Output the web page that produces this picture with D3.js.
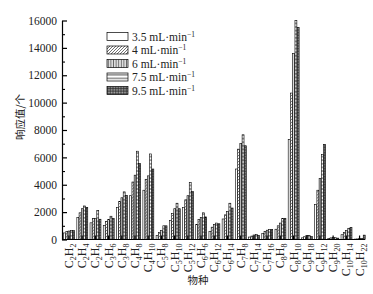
<!DOCTYPE html>
<html>
<head>
<meta charset="utf-8">
<script src="https://cdn.jsdelivr.net/npm/d3@7/dist/d3.min.js"></script>
<style>
  body { margin: 0; background: #fff; }
  svg { display: block; }
</style>
</head>
<body>
<div id="chart"></div>
<script>
// species on the x axis
const categories = ["C2H2", "C2H4", "C2H6", "C3H6", "C3H8", "C4H8", "C4H10", "C5H8", "C5H10", "C5H12",
  "C6H6", "C6H12", "C6H14", "C7H8", "C7H14", "C7H16", "C8H8", "C8H10", "C9H18", "C9H12", "C9H20", "C10H14", "C10H22"];

// flow rates (legend)
const flows = ["3.5", "4", "6", "7.5", "9.5"];

// response values per flow rate
const s35 = [480, 1600, 1220, 1030, 2350, 3200, 3600, 300, 1400, 2350, 1100, 600, 1500, 5150, 180, 450, 750, 7300, 120, 2550, 80, 350, 30];
const s4  = [580, 1950, 1550, 1330, 2780, 4200, 4400, 500, 1900, 2900, 1450, 900, 1800, 6600, 250, 600, 1000, 10700, 200, 3600, 120, 520, 40];
const s6  = [620, 2250, 1550, 1460, 3050, 4700, 4650, 650, 2250, 3200, 1600, 1100, 2050, 7000, 330, 680, 1200, 13600, 300, 4450, 150, 650, 60];
const s75 = [650, 2450, 2120, 1700, 3480, 6450, 6250, 1000, 2650, 4150, 1950, 1200, 2650, 7650, 380, 740, 1550, 16000, 300, 6200, 130, 820, 80];
const s95 = [650, 2350, 1480, 1550, 3230, 5550, 5150, 1000, 2250, 3500, 1650, 1150, 2300, 6850, 300, 740, 1550, 15500, 220, 6950, 100, 880, 320];

const yTicks = [0, 2000, 4000, 6000, 8000, 10000, 12000, 14000, 16000];

const seriesValues = [s35, s4, s6, s75, s95];

let width = 373, height = 294;
let margin = { left: 62, right: 6, top: 20.5, bottom: 54.5 };
const serif = "'Liberation Serif', 'Times New Roman', serif";
const cjk = "'Noto Sans CJK SC', sans-serif";

let svg = d3.select('#chart')
  .append('svg')
  .attr('width', width)
  .attr('height', height)
  .style('background-color', '#fff');

// fill patterns for the five flow rates
let defs = svg.append('defs');

let p2 = defs.append('pattern').attr('id', 'pat1')
  .attr('patternUnits', 'userSpaceOnUse').attr('width', 3).attr('height', 3);
p2.append('rect').attr('width', 3).attr('height', 3).attr('fill', '#fff');
p2.append('path').attr('d', 'M0,3 L3,0 M-1,1 L1,-1 M2,4 L4,2')
  .attr('stroke', '#333').attr('stroke-width', 0.7);

let p3 = defs.append('pattern').attr('id', 'pat2')
  .attr('patternUnits', 'userSpaceOnUse').attr('width', 2.6).attr('height', 3);
p3.append('rect').attr('width', 2.6).attr('height', 3).attr('fill', '#ddd');
p3.append('line').attr('x1', 1.3).attr('x2', 1.3).attr('y1', 0).attr('y2', 3)
  .attr('stroke', '#222').attr('stroke-width', 0.6);

let p4 = defs.append('pattern').attr('id', 'pat3')
  .attr('patternUnits', 'userSpaceOnUse').attr('width', 3).attr('height', 3.6);
p4.append('rect').attr('width', 3).attr('height', 3.6).attr('fill', '#fff');
p4.append('line').attr('x1', 0).attr('x2', 3).attr('y1', 1.8).attr('y2', 1.8)
  .attr('stroke', '#111').attr('stroke-width', 0.8);

let p5 = defs.append('pattern').attr('id', 'pat4')
  .attr('patternUnits', 'userSpaceOnUse').attr('width', 1.6).attr('height', 1.6);
p5.append('rect').attr('width', 1.6).attr('height', 1.6).attr('fill', '#aaa');
p5.append('path').attr('d', 'M0,0.4 H1.6 M0.4,0 V1.6')
  .attr('stroke', '#222').attr('stroke-width', 0.5);

const fills = ['#fff', 'url(#pat1)', 'url(#pat2)', 'url(#pat3)', 'url(#pat4)'];

// scales
let xScale = d3.scaleBand()
  .domain(categories)
  .range([margin.left, width - margin.right - 0.5])
  .paddingInner(0.15)
  .paddingOuter(0.1);

let xInner = d3.scaleBand()
  .domain(d3.range(flows.length))
  .range([0, xScale.bandwidth()]);

let yScale = d3.scaleLinear()
  .domain([0, 16000])
  .range([height - margin.bottom, margin.top]);

// bars
let groups = svg.selectAll('.grp')
  .data(categories)
  .enter()
  .append('g')
  .attr('class', 'grp')
  .attr('transform', d => `translate(${xScale(d)},0)`);

groups.selectAll('rect')
  .data((d, i) => seriesValues.map((s, k) => ({ k: k, v: s[i] })))
  .enter()
  .append('rect')
  .attr('x', d => xInner(d.k) + 0.3)
  .attr('y', d => yScale(d.v))
  .attr('width', xInner.bandwidth() - 0.3)
  .attr('height', d => yScale(0) - yScale(d.v))
  .attr('fill', d => fills[d.k])
  .attr('stroke', '#000')
  .attr('stroke-width', 0.6);

// y axis, ticks pointing inward, minor ticks in between
let yAxis = svg.append('g')
  .attr('transform', `translate(${margin.left},0)`)
  .call(d3.axisLeft(yScale).tickValues(yTicks).tickSizeInner(-5).tickSizeOuter(0).tickPadding(5).tickFormat(d3.format('d')));
yAxis.select('.domain').attr('stroke', '#000').attr('stroke-width', 1.2);
yAxis.selectAll('.tick line').attr('stroke-width', 1.2);
yAxis.selectAll('text').style('font-family', serif).style('font-size', '11.5px').attr('fill', '#222');

svg.append('g')
  .attr('transform', `translate(${margin.left},0)`)
  .call(d3.axisLeft(yScale).tickValues(d3.range(1000, 16000, 2000)).tickSizeInner(-3).tickSizeOuter(0).tickFormat(''))
  .call(g => g.select('.domain').remove())
  .selectAll('.tick line').attr('stroke-width', 1.1);

// x axis
let xAxis = svg.append('g')
  .attr('transform', `translate(0,${yScale(0)})`)
  .call(d3.axisBottom(xScale).tickSizeInner(-4).tickSizeOuter(0).tickFormat(''));
xAxis.select('.domain').attr('stroke-width', 1.2).attr('d', `M${margin.left},0H${width - margin.right - 2}`);
xAxis.selectAll('.tick line').attr('stroke-width', 1.2);

// rotated chemical formula labels with subscripts
function formula(textSel, str) {
  let parts = str.match(/[A-Za-z]+|\d+/g);
  let sub = false;
  parts.forEach(p => {
    let isNum = /\d/.test(p);
    let t = textSel.append('tspan').text(p);
    if (isNum) {
      t.attr('font-size', '8px').attr('dy', sub ? 0 : 3);
      sub = true;
    } else {
      t.attr('font-size', '12px').attr('dy', sub ? -3 : 0);
      sub = false;
    }
  });
}

categories.forEach(c => {
  let cx = xScale(c) + xScale.bandwidth() / 2;
  let t = svg.append('text')
    .attr('transform', `translate(${cx + 4},${yScale(0) + 4}) rotate(-90)`)
    .attr('text-anchor', 'end')
    .style('font-family', serif)
    .attr('fill', '#222');
  formula(t, c);
});

// axis titles
svg.append('text')
  .attr('transform', `translate(24,117) rotate(-90)`)
  .attr('text-anchor', 'middle')
  .style('font-family', cjk)
  .style('font-size', '10.5px')
  .attr('fill', '#222')
  .text('响应值/个');

svg.append('text')
  .attr('x', 198)
  .attr('y', 284)
  .attr('text-anchor', 'middle')
  .style('font-family', cjk)
  .style('font-size', '10.5px')
  .attr('fill', '#222')
  .text('物种');

// legend
let legend = svg.selectAll('.legend')
  .data(flows)
  .enter().append('g')
  .attr('class', 'legend')
  .attr('transform', (d, i) => `translate(107,${32.5 + i * 13.5})`);

legend.append('rect')
  .attr('width', 21)
  .attr('height', 8)
  .attr('fill', (d, i) => fills[i])
  .attr('stroke', '#000')
  .attr('stroke-width', 0.7);

let lt = legend.append('text')
  .attr('x', 25)
  .attr('y', 8)
  .style('font-family', serif)
  .style('font-size', '11.5px')
  .attr('fill', '#222');
lt.append('tspan').text(d => d + ' mL\u00b7min');
lt.append('tspan').attr('dy', -4).attr('font-size', '7.5px').text('\u22121');
</script>
</body>
</html>
